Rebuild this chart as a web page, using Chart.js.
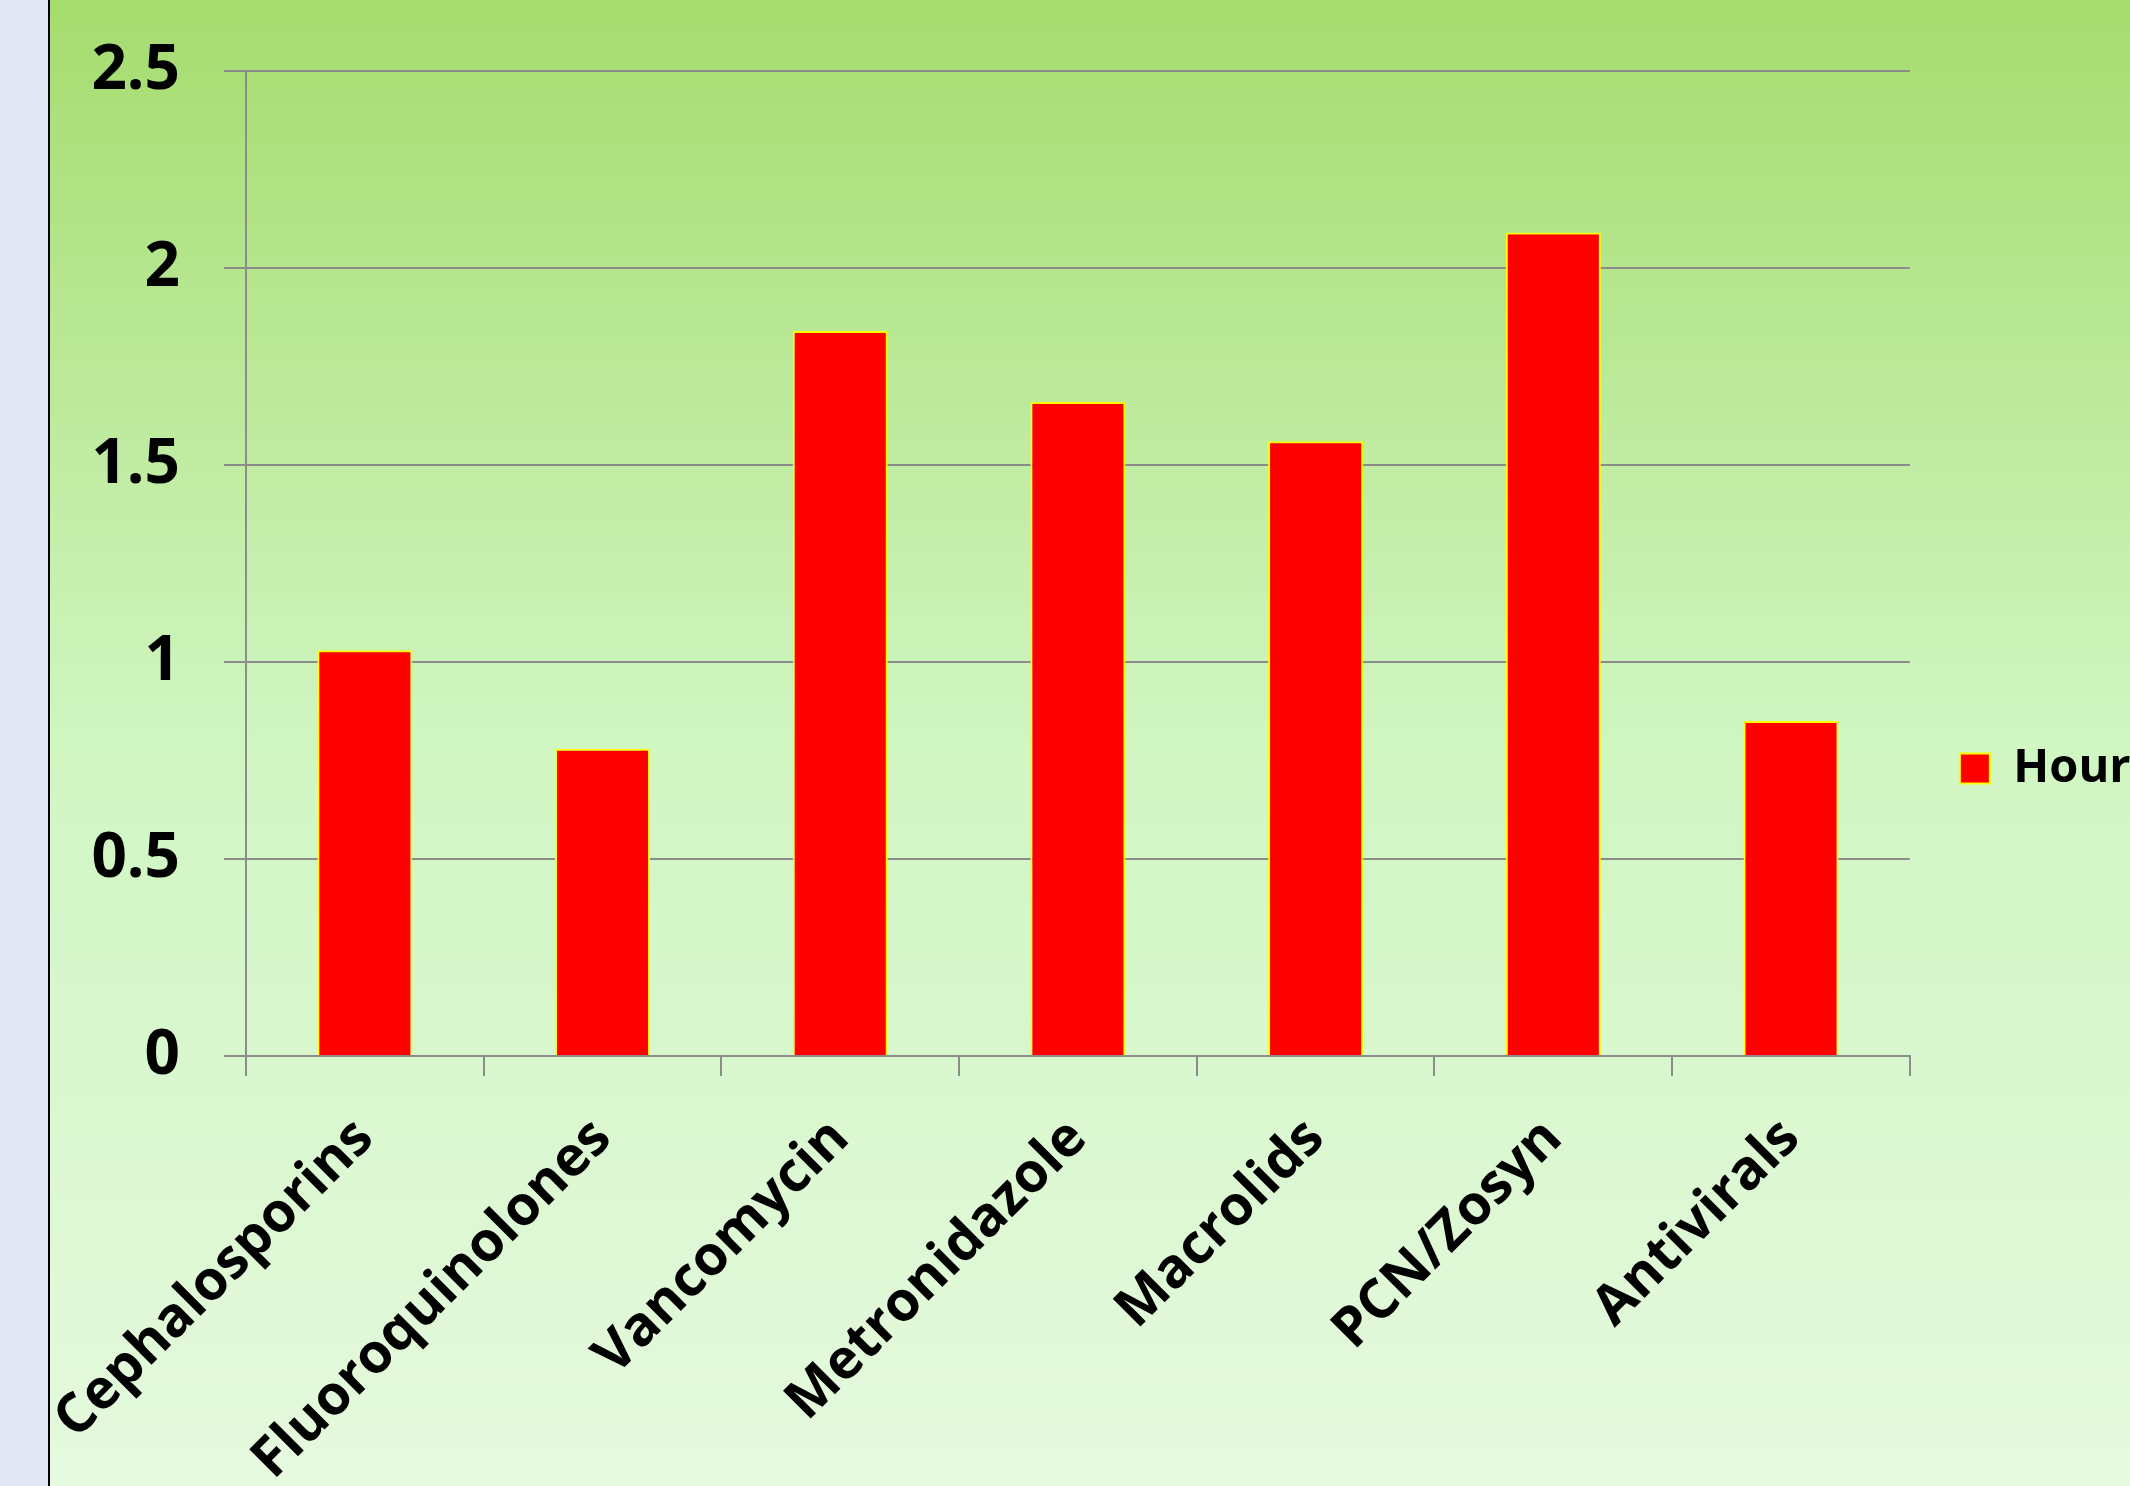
<!DOCTYPE html>
<html>
<head>
<meta charset="utf-8">
<script src="https://cdn.jsdelivr.net/npm/chart.js@4.4.0/dist/chart.umd.min.js"></script>
<style>
    html, body { margin: 0; padding: 0; }
    body { width: 2130px; height: 1486px; overflow: hidden; background: #e3e8f5; position: relative; }
    #strip { position: absolute; left: 0; top: 0; width: 48px; height: 1486px; background: #e3e8f5; border-right: 2px solid #000; }
    #panel {
        position: absolute; left: 50px; top: 0; width: 2080px; height: 1486px; overflow: hidden;
        background: linear-gradient(to bottom, #a5dc6e 0%, #d0f6c2 50%, #e5f9de 100%);
    }
    #chart { position: absolute; left: 0; top: 0; }
</style>
</head>
<body>
<div id="strip"></div>
<div id="panel"><canvas id="chart" width="2300" height="1486"></canvas></div>
<script>
// 抗菌薬ごとの時間
const categories = ['Cephalosporins', 'Fluoroquinolones', 'Vancomycin', 'Metronidazole', 'Macrolids', 'PCN/Zosyn', 'Antivirals'];
const hours = [1.03, 0.78, 1.84, 1.66, 1.56, 2.09, 0.85];
const seriesLabel = 'Hours';
const yMax = 2.5;
const yStep = 0.5;

Chart.defaults.font.family = '"Open Sans", sans-serif';
Chart.defaults.font.weight = 'bold';
Chart.defaults.color = '#000';

const gridGray = '#8c8c8c';

// 軸ラベルによる余白の自動調整を無効化
function noPadding(scale) {
    scale.paddingLeft = 0;
    scale.paddingRight = 0;
    scale.paddingTop = 0;
    scale.paddingBottom = 0;
}

// 凡例を少し上にずらす
const legendNudge = {
    id: 'legendNudge',
    afterLayout(chart) {
        if (chart.legend) {
            chart.legend.top -= 10;
            chart.legend.bottom -= 10;
        }
    }
};

const ctx = document.getElementById('chart').getContext('2d');
const chart = new Chart(ctx, {
    type: 'bar',
    data: {
        labels: categories,
        datasets: [{
            label: seriesLabel,
            data: hours,
            backgroundColor: '#ff0000',
            borderColor: '#ffff00',
            borderWidth: 2,
            barPercentage: 0.4,
            categoryPercentage: 1.0
        }]
    },
    options: {
        responsive: false,
        animation: false,
        layout: {
            padding: { left: 0, top: 71, right: 186, bottom: 0 }
        },
        plugins: {
            title: { display: false },
            tooltip: { enabled: false },
            legend: {
                position: 'right',
                align: 'center',
                labels: {
                    boxWidth: 30,
                    boxHeight: 30,
                    padding: 50,
                    font: { size: 47, weight: 'bold' },
                    color: '#000'
                }
            }
        },
        scales: {
            x: {
                grid: {
                    display: true,
                    drawOnChartArea: false,
                    drawTicks: true,
                    tickLength: 20,
                    color: gridGray,
                    lineWidth: 2,
                    offset: true
                },
                border: { display: true, color: gridGray, width: 2 },
                ticks: {
                    autoSkip: false,
                    minRotation: 45,
                    maxRotation: 45,
                    padding: 30,
                    font: { size: 55, weight: 'bold' },
                    color: '#000'
                },
                afterFit: function(scale) {
                    scale.height = 430;
                    noPadding(scale);
                }
            },
            y: {
                min: 0,
                max: yMax,
                grid: {
                    color: gridGray,
                    lineWidth: 2,
                    drawTicks: true,
                    tickLength: 22
                },
                border: { display: true, color: gridGray, width: 2 },
                ticks: {
                    stepSize: yStep,
                    padding: 44,
                    font: { size: 62, weight: 'bold' },
                    color: '#000',
                    callback: function(value) {
                        return String(Math.round(value * 10) / 10);
                    }
                },
                afterFit: function(scale) {
                    scale.width = 196;
                    noPadding(scale);
                }
            }
        }
    },
    plugins: [legendNudge]
});
</script>
</body>
</html>
